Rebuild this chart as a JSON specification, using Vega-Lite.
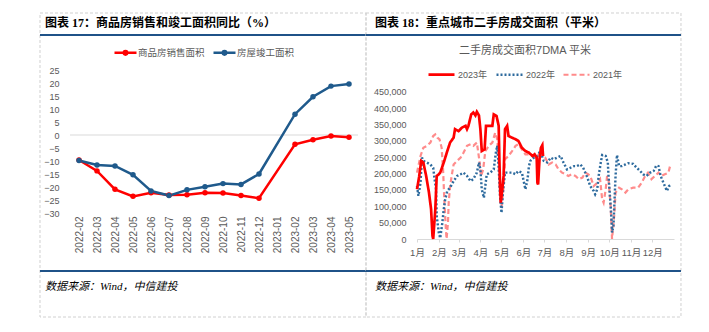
{
  "$schema": "https://vega.github.io/schema/vega-lite/v6.json",
  "background": "white",
  "autosize": {"type": "pad"},
  "padding": {"left": 38, "top": 12, "right": 29, "bottom": 15},
  "config": {"view": {"stroke": null}, "font": "Liberation Sans, Noto Sans CJK SC", "axis": {"grid": false}},
  "bounds": "flush",
  "spacing": 59,
  "resolve": {"scale": {"color": "independent", "strokeDash": "independent", "strokeWidth": "independent"}, "legend": {"color": "independent", "strokeDash": "independent"}},
  "hconcat": [
    {
      "width": 288,
      "height": 143,
      "resolve": {"scale": {"x": "independent", "y": "independent"}},
      "layer": [
        {
          "data": {"values": [{}]},
          "mark": {"type": "rect", "filled": false, "stroke": "#D0D0D0", "strokeWidth": 1, "strokeDash": [3, 2]},
          "encoding": {
            "x": {"datum": -1.667, "type": "quantitative", "scale": {"domain": [0, 16], "nice": false}, "axis": null},
            "x2": {"datum": 16.444},
            "y": {"datum": 46.92, "type": "quantitative", "scale": {"domain": [-30, 25], "nice": false}, "axis": null},
            "y2": {"datum": -70.0}
          }
        },
        {
          "data": {"values": [{}]},
          "mark": {"type": "rule", "color": "#1F5288", "strokeWidth": 2},
          "encoding": {
            "x": {"datum": -1.667, "type": "quantitative", "scale": {"domain": [0, 16], "nice": false}, "axis": null},
            "x2": {"datum": 16.444},
            "y": {"datum": 38.46, "type": "quantitative", "scale": {"domain": [-30, 25], "nice": false}, "axis": null}
          }
        },
        {
          "data": {"values": [{}]},
          "mark": {"type": "rule", "color": "#1F5288", "strokeWidth": 2},
          "encoding": {
            "x": {"datum": -1.667, "type": "quantitative", "scale": {"domain": [0, 16], "nice": false}, "axis": null},
            "x2": {"datum": 16.444},
            "y": {"datum": -52.31, "type": "quantitative", "scale": {"domain": [-30, 25], "nice": false}, "axis": null}
          }
        },
        {
          "data": {"values": [{}]},
          "mark": {"type": "text", "text": "图表 17：商品房销售和竣工面积同比（%）", "align": "left", "baseline": "middle", "fontSize": 12, "fontWeight": "bold", "font": "Liberation Serif, Noto Sans CJK SC", "color": "#000000"},
          "encoding": {
            "x": {"datum": -1.389, "type": "quantitative", "scale": {"domain": [0, 16], "nice": false}, "axis": null},
            "y": {"datum": 43.08, "type": "quantitative", "scale": {"domain": [-30, 25], "nice": false}, "axis": null}
          }
        },
        {
          "data": {"values": [{}]},
          "mark": {"type": "text", "text": "数据来源：Wind，中信建投", "align": "left", "baseline": "middle", "fontSize": 11, "fontStyle": "italic", "font": "Liberation Serif, Noto Sans CJK SC", "color": "#000000"},
          "encoding": {
            "x": {"datum": -1.389, "type": "quantitative", "scale": {"domain": [0, 16], "nice": false}, "axis": null},
            "y": {"datum": -58.46, "type": "quantitative", "scale": {"domain": [-30, 25], "nice": false}, "axis": null}
          }
        },
        {
          "data": {"values": [{}]},
          "mark": {"type": "rule", "color": "#D9D9D9", "strokeWidth": 1},
          "encoding": {
            "y": {"datum": 0, "type": "quantitative", "scale": {"domain": [-30, 25], "nice": false}, "axis": null}
          }
        },
        {
          "data": {"values": [
            {"month": "2022-02", "series": "商品房销售面积", "value": -9.6},
            {"month": "2022-03", "series": "商品房销售面积", "value": -13.8},
            {"month": "2022-04", "series": "商品房销售面积", "value": -20.9},
            {"month": "2022-05", "series": "商品房销售面积", "value": -23.6},
            {"month": "2022-06", "series": "商品房销售面积", "value": -22.2},
            {"month": "2022-07", "series": "商品房销售面积", "value": -23.1},
            {"month": "2022-08", "series": "商品房销售面积", "value": -23.0},
            {"month": "2022-09", "series": "商品房销售面积", "value": -22.2},
            {"month": "2022-10", "series": "商品房销售面积", "value": -22.3},
            {"month": "2022-11", "series": "商品房销售面积", "value": -23.3},
            {"month": "2022-12", "series": "商品房销售面积", "value": -24.3},
            {"month": "2023-02", "series": "商品房销售面积", "value": -3.6},
            {"month": "2023-03", "series": "商品房销售面积", "value": -1.8},
            {"month": "2023-04", "series": "商品房销售面积", "value": -0.4},
            {"month": "2023-05", "series": "商品房销售面积", "value": -0.9},
            {"month": "2022-02", "series": "房屋竣工面积", "value": -9.8},
            {"month": "2022-03", "series": "房屋竣工面积", "value": -11.5},
            {"month": "2022-04", "series": "房屋竣工面积", "value": -11.9},
            {"month": "2022-05", "series": "房屋竣工面积", "value": -15.3},
            {"month": "2022-06", "series": "房屋竣工面积", "value": -21.5},
            {"month": "2022-07", "series": "房屋竣工面积", "value": -23.3},
            {"month": "2022-08", "series": "房屋竣工面积", "value": -21.1},
            {"month": "2022-09", "series": "房屋竣工面积", "value": -19.9},
            {"month": "2022-10", "series": "房屋竣工面积", "value": -18.7},
            {"month": "2022-11", "series": "房屋竣工面积", "value": -19.0},
            {"month": "2022-12", "series": "房屋竣工面积", "value": -15.0},
            {"month": "2023-02", "series": "房屋竣工面积", "value": 8.0},
            {"month": "2023-03", "series": "房屋竣工面积", "value": 14.7},
            {"month": "2023-04", "series": "房屋竣工面积", "value": 18.8},
            {"month": "2023-05", "series": "房屋竣工面积", "value": 19.6}
          ]},
          "mark": {"type": "line", "strokeWidth": 2.5, "point": {"filled": true, "size": 30}},
          "encoding": {
            "x": {
              "field": "month", "type": "ordinal", "sort": null,
              "scale": {"type": "point", "padding": 0.5, "domain": ["2022-02","2022-03","2022-04","2022-05","2022-06","2022-07","2022-08","2022-09","2022-10","2022-11","2022-12","2023-01","2023-02","2023-03","2023-04","2023-05"]},
              "axis": {"title": null, "labelAngle": -90, "labelFontSize": 10, "labelColor": "#595959", "ticks": false, "tickSize": 0, "domain": false, "labelPadding": 3}
            },
            "y": {
              "field": "value", "type": "quantitative",
              "scale": {"domain": [-30, 25], "nice": false},
              "axis": {"title": null, "values": [-30,-25,-20,-15,-10,-5,0,5,10,15,20,25], "labelOverlap": false, "domain": false, "ticks": false, "tickSize": 0, "labelPadding": 11, "labelFontSize": 9, "labelColor": "#595959", "grid": false}
            },
            "color": {
              "field": "series", "type": "nominal",
              "scale": {"domain": ["商品房销售面积", "房屋竣工面积"], "range": ["#FF0000", "#1F5A8C"]},
              "legend": {"orient": "none", "legendX": 43, "legendY": -30, "direction": "horizontal", "title": null, "padding": 0, "symbolType": "M-1,0L1,0M-0.16,0A0.16,0.16,0,1,1,0.16,0A0.16,0.16,0,1,1,-0.16,0", "symbolSize": 484, "symbolStrokeWidth": 2.5, "labelFontSize": 9.5, "labelColor": "#595959", "columnPadding": 3, "labelOffset": 0}
            }
          }
        }
      ]
    },
    {
      "width": 257,
      "height": 169,
      "resolve": {"scale": {"x": "independent", "y": "independent"}},
      "layer": [
        {
          "data": {"values": [{}]},
          "mark": {"type": "rect", "filled": false, "stroke": "#D0D0D0", "strokeWidth": 1, "strokeDash": [3, 2]},
          "encoding": {
            "x": {"datum": -72.43, "type": "quantitative", "scale": {"domain": [0, 365], "nice": false, "zero": false}, "axis": null},
            "x2": {"datum": 374.9},
            "y": {"datum": 691379, "type": "quantitative", "scale": {"domain": [0, 517000], "nice": false}, "axis": null},
            "y2": {"datum": -238618}
          }
        },
        {
          "data": {"values": [{}]},
          "mark": {"type": "rule", "color": "#1F5288", "strokeWidth": 2},
          "encoding": {
            "x": {"datum": -72.43, "type": "quantitative", "scale": {"domain": [0, 365], "nice": false, "zero": false}, "axis": null},
            "x2": {"datum": 374.9},
            "y": {"datum": 624077, "type": "quantitative", "scale": {"domain": [0, 517000], "nice": false}, "axis": null}
          }
        },
        {
          "data": {"values": [{}]},
          "mark": {"type": "rule", "color": "#1F5288", "strokeWidth": 2},
          "encoding": {
            "x": {"datum": -72.43, "type": "quantitative", "scale": {"domain": [0, 365], "nice": false, "zero": false}, "axis": null},
            "x2": {"datum": 374.9},
            "y": {"datum": -97894, "type": "quantitative", "scale": {"domain": [0, 517000], "nice": false}, "axis": null}
          }
        },
        {
          "data": {"values": [{}]},
          "mark": {"type": "text", "text": "图表 18：重点城市二手房成交面积（平米）", "align": "left", "baseline": "middle", "fontSize": 12, "fontWeight": "bold", "font": "Liberation Serif, Noto Sans CJK SC", "color": "#000000"},
          "encoding": {
            "x": {"datum": -59.65, "type": "quantitative", "scale": {"domain": [0, 365], "nice": false, "zero": false}, "axis": null},
            "y": {"datum": 660787, "type": "quantitative", "scale": {"domain": [0, 517000], "nice": false}, "axis": null}
          }
        },
        {
          "data": {"values": [{}]},
          "mark": {"type": "text", "text": "二手房成交面积7DMA 平米", "align": "center", "baseline": "middle", "fontSize": 11, "font": "Liberation Sans, Noto Sans CJK SC", "color": "#595959"},
          "encoding": {
            "x": {"datum": 153.4, "type": "quantitative", "scale": {"domain": [0, 365], "nice": false, "zero": false}, "axis": null},
            "y": {"datum": 575130, "type": "quantitative", "scale": {"domain": [0, 517000], "nice": false}, "axis": null}
          }
        },
        {
          "data": {"values": [{}]},
          "mark": {"type": "text", "text": "数据来源：Wind，中信建投", "align": "left", "baseline": "middle", "fontSize": 11, "fontStyle": "italic", "font": "Liberation Serif, Noto Sans CJK SC", "color": "#000000"},
          "encoding": {
            "x": {"datum": -59.65, "type": "quantitative", "scale": {"domain": [0, 365], "nice": false, "zero": false}, "axis": null},
            "y": {"datum": -146842, "type": "quantitative", "scale": {"domain": [0, 517000], "nice": false}, "axis": null}
          }
        },
        {
          "data": {"values": [
            {"series":"2021年","day":0,"v":203000},{"series":"2021年","day":5,"v":254000},{"series":"2021年","day":9,"v":279000},{"series":"2021年","day":14,"v":285000},{"series":"2021年","day":19,"v":295000},{"series":"2021年","day":23,"v":315000},{"series":"2021年","day":26,"v":320000},{"series":"2021年","day":29,"v":310000},{"series":"2021年","day":32,"v":305000},{"series":"2021年","day":35,"v":279000},{"series":"2021年","day":37,"v":213000},{"series":"2021年","day":39,"v":111000},{"series":"2021年","day":41,"v":30000},{"series":"2021年","day":42,"v":0},{"series":"2021年","day":44,"v":50000},{"series":"2021年","day":45,"v":111000},{"series":"2021年","day":47,"v":162000},{"series":"2021年","day":50,"v":203000},{"series":"2021年","day":52,"v":228000},{"series":"2021年","day":57,"v":239000},{"series":"2021年","day":62,"v":249000},{"series":"2021年","day":66,"v":264000},{"series":"2021年","day":71,"v":285000},{"series":"2021年","day":76,"v":290000},{"series":"2021年","day":80,"v":285000},{"series":"2021年","day":85,"v":295000},{"series":"2021年","day":89,"v":234000},{"series":"2021年","day":91,"v":193000},{"series":"2021年","day":94,"v":213000},{"series":"2021年","day":97,"v":269000},{"series":"2021年","day":102,"v":285000},{"series":"2021年","day":107,"v":295000},{"series":"2021年","day":111,"v":325000},{"series":"2021年","day":114,"v":305000},{"series":"2021年","day":116,"v":234000},{"series":"2021年","day":118,"v":121000},{"series":"2021年","day":120,"v":96000},{"series":"2021年","day":123,"v":162000},{"series":"2021年","day":125,"v":244000},{"series":"2021年","day":130,"v":254000},{"series":"2021年","day":135,"v":269000},{"series":"2021年","day":140,"v":285000},{"series":"2021年","day":144,"v":290000},{"series":"2021年","day":149,"v":274000},{"series":"2021年","day":154,"v":259000},{"series":"2021年","day":159,"v":259000},{"series":"2021年","day":164,"v":254000},{"series":"2021年","day":168,"v":249000},{"series":"2021年","day":173,"v":259000},{"series":"2021年","day":178,"v":254000},{"series":"2021年","day":182,"v":249000},{"series":"2021年","day":187,"v":228000},{"series":"2021年","day":192,"v":234000},{"series":"2021年","day":197,"v":228000},{"series":"2021年","day":201,"v":213000},{"series":"2021年","day":206,"v":203000},{"series":"2021年","day":211,"v":198000},{"series":"2021年","day":215,"v":193000},{"series":"2021年","day":220,"v":198000},{"series":"2021年","day":225,"v":193000},{"series":"2021年","day":230,"v":183000},{"series":"2021年","day":235,"v":188000},{"series":"2021年","day":239,"v":203000},{"series":"2021年","day":243,"v":198000},{"series":"2021年","day":246,"v":193000},{"series":"2021年","day":251,"v":162000},{"series":"2021年","day":256,"v":172000},{"series":"2021年","day":260,"v":183000},{"series":"2021年","day":263,"v":121000},{"series":"2021年","day":265,"v":111000},{"series":"2021年","day":268,"v":152000},{"series":"2021年","day":270,"v":193000},{"series":"2021年","day":272,"v":183000},{"series":"2021年","day":275,"v":101000},{"series":"2021年","day":277,"v":0},{"series":"2021年","day":280,"v":70000},{"series":"2021年","day":282,"v":142000},{"series":"2021年","day":287,"v":157000},{"series":"2021年","day":291,"v":152000},{"series":"2021年","day":296,"v":142000},{"series":"2021年","day":300,"v":152000},{"series":"2021年","day":307,"v":157000},{"series":"2021年","day":314,"v":157000},{"series":"2021年","day":319,"v":172000},{"series":"2021年","day":324,"v":193000},{"series":"2021年","day":328,"v":203000},{"series":"2021年","day":333,"v":183000},{"series":"2021年","day":338,"v":193000},{"series":"2021年","day":343,"v":203000},{"series":"2021年","day":347,"v":193000},{"series":"2021年","day":352,"v":198000},{"series":"2021年","day":357,"v":203000},{"series":"2021年","day":360,"v":228000},
            {"series":"2022年","day":0,"v":162000},{"series":"2022年","day":2,"v":132000},{"series":"2022年","day":5,"v":172000},{"series":"2022年","day":7,"v":249000},{"series":"2022年","day":9,"v":239000},{"series":"2022年","day":14,"v":234000},{"series":"2022年","day":19,"v":228000},{"series":"2022年","day":23,"v":218000},{"series":"2022年","day":25,"v":183000},{"series":"2022年","day":27,"v":152000},{"series":"2022年","day":28,"v":70000},{"series":"2022年","day":31,"v":19000},{"series":"2022年","day":33,"v":3000},{"series":"2022年","day":36,"v":50000},{"series":"2022年","day":38,"v":91000},{"series":"2022年","day":40,"v":121000},{"series":"2022年","day":43,"v":147000},{"series":"2022年","day":47,"v":157000},{"series":"2022年","day":52,"v":177000},{"series":"2022年","day":57,"v":193000},{"series":"2022年","day":62,"v":198000},{"series":"2022年","day":66,"v":203000},{"series":"2022年","day":71,"v":193000},{"series":"2022年","day":76,"v":177000},{"series":"2022年","day":80,"v":183000},{"series":"2022年","day":85,"v":203000},{"series":"2022年","day":88,"v":234000},{"series":"2022年","day":90,"v":213000},{"series":"2022年","day":92,"v":152000},{"series":"2022年","day":95,"v":126000},{"series":"2022年","day":97,"v":162000},{"series":"2022年","day":99,"v":198000},{"series":"2022年","day":104,"v":203000},{"series":"2022年","day":109,"v":213000},{"series":"2022年","day":112,"v":264000},{"series":"2022年","day":114,"v":285000},{"series":"2022年","day":116,"v":220000},{"series":"2022年","day":118,"v":130000},{"series":"2022年","day":120,"v":80000},{"series":"2022年","day":122,"v":142000},{"series":"2022年","day":125,"v":203000},{"series":"2022年","day":130,"v":203000},{"series":"2022年","day":135,"v":203000},{"series":"2022年","day":140,"v":198000},{"series":"2022年","day":144,"v":208000},{"series":"2022年","day":149,"v":203000},{"series":"2022年","day":152,"v":172000},{"series":"2022年","day":154,"v":152000},{"series":"2022年","day":157,"v":183000},{"series":"2022年","day":159,"v":223000},{"series":"2022年","day":161,"v":239000},{"series":"2022年","day":166,"v":249000},{"series":"2022年","day":171,"v":254000},{"series":"2022年","day":175,"v":269000},{"series":"2022年","day":180,"v":239000},{"series":"2022年","day":185,"v":234000},{"series":"2022年","day":190,"v":249000},{"series":"2022年","day":194,"v":244000},{"series":"2022年","day":199,"v":249000},{"series":"2022年","day":204,"v":254000},{"series":"2022年","day":208,"v":234000},{"series":"2022年","day":213,"v":213000},{"series":"2022年","day":218,"v":218000},{"series":"2022年","day":223,"v":223000},{"series":"2022年","day":227,"v":223000},{"series":"2022年","day":232,"v":228000},{"series":"2022年","day":236,"v":218000},{"series":"2022年","day":239,"v":203000},{"series":"2022年","day":242,"v":188000},{"series":"2022年","day":246,"v":162000},{"series":"2022年","day":251,"v":147000},{"series":"2022年","day":253,"v":137000},{"series":"2022年","day":256,"v":152000},{"series":"2022年","day":258,"v":193000},{"series":"2022年","day":261,"v":234000},{"series":"2022年","day":263,"v":257000},{"series":"2022年","day":268,"v":254000},{"series":"2022年","day":271,"v":234000},{"series":"2022年","day":272,"v":193000},{"series":"2022年","day":274,"v":132000},{"series":"2022年","day":276,"v":70000},{"series":"2022年","day":277,"v":20000},{"series":"2022年","day":279,"v":40000},{"series":"2022年","day":280,"v":91000},{"series":"2022年","day":282,"v":193000},{"series":"2022年","day":284,"v":257000},{"series":"2022年","day":287,"v":223000},{"series":"2022年","day":291,"v":223000},{"series":"2022年","day":296,"v":228000},{"series":"2022年","day":300,"v":232000},{"series":"2022年","day":307,"v":230000},{"series":"2022年","day":312,"v":218000},{"series":"2022年","day":317,"v":208000},{"series":"2022年","day":321,"v":198000},{"series":"2022年","day":326,"v":193000},{"series":"2022年","day":331,"v":203000},{"series":"2022年","day":336,"v":208000},{"series":"2022年","day":340,"v":225000},{"series":"2022年","day":343,"v":223000},{"series":"2022年","day":346,"v":193000},{"series":"2022年","day":350,"v":172000},{"series":"2022年","day":355,"v":147000},{"series":"2022年","day":358,"v":162000},{"series":"2022年","day":361,"v":167000},
            {"series":"2023年","day":0,"v":152000},{"series":"2023年","day":3,"v":190000},{"series":"2023年","day":6,"v":239000},{"series":"2023年","day":9,"v":234000},{"series":"2023年","day":13,"v":193000},{"series":"2023年","day":17,"v":142000},{"series":"2023年","day":20,"v":91000},{"series":"2023年","day":22,"v":10000},{"series":"2023年","day":23,"v":0},{"series":"2023年","day":24,"v":30000},{"series":"2023年","day":26,"v":91000},{"series":"2023年","day":28,"v":193000},{"series":"2023年","day":31,"v":198000},{"series":"2023年","day":33,"v":203000},{"series":"2023年","day":38,"v":234000},{"series":"2023年","day":43,"v":269000},{"series":"2023年","day":47,"v":295000},{"series":"2023年","day":52,"v":310000},{"series":"2023年","day":54,"v":336000},{"series":"2023年","day":59,"v":330000},{"series":"2023年","day":64,"v":341000},{"series":"2023年","day":69,"v":346000},{"series":"2023年","day":71,"v":336000},{"series":"2023年","day":73,"v":346000},{"series":"2023年","day":77,"v":381000},{"series":"2023年","day":80,"v":387000},{"series":"2023年","day":83,"v":378000},{"series":"2023年","day":85,"v":389000},{"series":"2023年","day":88,"v":378000},{"series":"2023年","day":90,"v":336000},{"series":"2023年","day":92,"v":269000},{"series":"2023年","day":96,"v":274000},{"series":"2023年","day":98,"v":346000},{"series":"2023年","day":102,"v":346000},{"series":"2023年","day":107,"v":346000},{"series":"2023年","day":109,"v":381000},{"series":"2023年","day":113,"v":376000},{"series":"2023年","day":116,"v":346000},{"series":"2023年","day":117,"v":244000},{"series":"2023年","day":118,"v":162000},{"series":"2023年","day":119,"v":111000},{"series":"2023年","day":121,"v":150000},{"series":"2023年","day":123,"v":193000},{"series":"2023年","day":125,"v":336000},{"series":"2023年","day":128,"v":346000},{"series":"2023年","day":130,"v":315000},{"series":"2023年","day":135,"v":310000},{"series":"2023年","day":140,"v":305000},{"series":"2023年","day":144,"v":300000},{"series":"2023年","day":149,"v":279000},{"series":"2023年","day":154,"v":269000},{"series":"2023年","day":159,"v":264000},{"series":"2023年","day":164,"v":254000},{"series":"2023年","day":167,"v":259000},{"series":"2023年","day":170,"v":249000},{"series":"2023年","day":171,"v":172000},{"series":"2023年","day":172,"v":167000},{"series":"2023年","day":174,"v":244000},{"series":"2023年","day":176,"v":279000},{"series":"2023年","day":178,"v":287000},{"series":"2023年","day":179,"v":254000}
          ]},
          "mark": {"type": "line"},
          "encoding": {
            "x": {
              "field": "day", "type": "quantitative",
              "scale": {"domain": [0, 365], "nice": false, "zero": false},
              "axis": {"title": null, "values": [0,31,59,90,120,151,181,212,243,273,304,334], "labelExpr": "(indexof([0,31,59,90,120,151,181,212,243,273,304,334], datum.value) + 1) + '月'", "domainColor": "#D9D9D9", "tickColor": "#D9D9D9", "tickSize": 3, "labelPadding": 5, "labelFontSize": 9.5, "labelColor": "#595959", "labelFlush": false, "labelOverlap": false, "grid": false}
            },
            "y": {
              "field": "v", "type": "quantitative",
              "scale": {"domain": [0, 517000], "nice": false},
              "axis": {"title": null, "values": [0,50000,100000,150000,200000,250000,300000,350000,400000,450000], "labelExpr": "format(datum.value, ',')", "labelOverlap": false, "domain": false, "ticks": false, "tickSize": 0, "labelPadding": 11, "labelFontSize": 9, "labelColor": "#595959", "grid": false}
            },
            "color": {
              "field": "series", "type": "nominal",
              "scale": {"domain": ["2023年", "2022年", "2021年"], "range": ["#FF0000", "#2E6B9E", "#FF8B8B"]},
              "legend": {"orient": "none", "legendX": 10, "legendY": -10, "direction": "horizontal", "title": null, "padding": 0, "symbolType": "stroke", "symbolSize": 676, "symbolStrokeWidth": 2.5, "labelFontSize": 9, "labelColor": "#595959", "columnPadding": 3, "labelOffset": 2}
            },
            "strokeDash": {
              "field": "series", "type": "nominal",
              "scale": {"domain": ["2023年", "2022年", "2021年"], "range": [[1, 0], [2, 2], [5, 3]]},
              "legend": {"orient": "none", "legendX": 10, "legendY": -10, "direction": "horizontal", "title": null, "padding": 0, "symbolType": "stroke", "symbolSize": 676, "symbolStrokeWidth": 2.5, "labelFontSize": 9, "labelColor": "#595959", "columnPadding": 3, "labelOffset": 2}
            },
            "strokeWidth": {
              "field": "series", "type": "nominal",
              "scale": {"domain": ["2023年", "2022年", "2021年"], "range": [2.7, 2.2, 2.4]},
              "legend": null
            }
          }
        }
      ]
    }
  ]
}
